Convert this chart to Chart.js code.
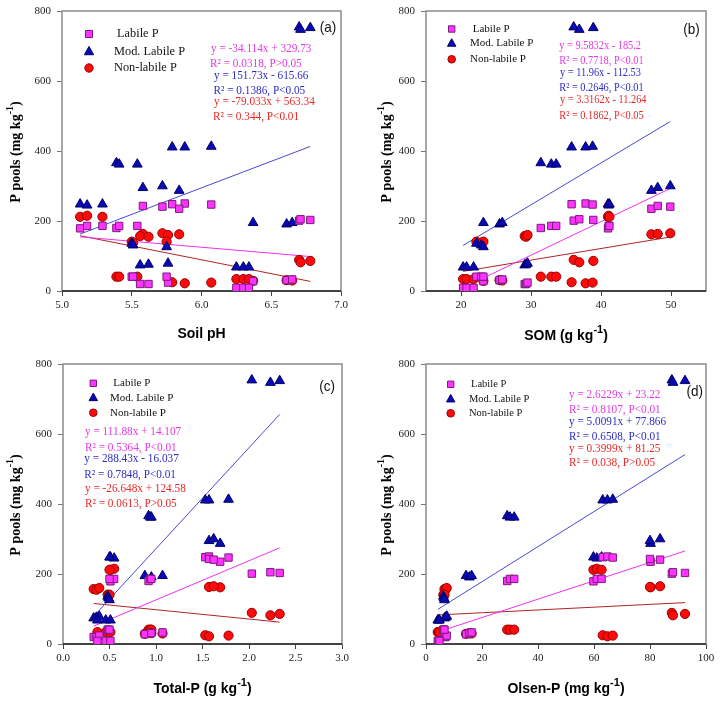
<!DOCTYPE html>
<html>
<head>
<meta charset="utf-8">
<script src="https://cdn.jsdelivr.net/npm/chart.js@4.4.1/dist/chart.umd.min.js"></script>
<style>
  body { margin: 0; background: #fff; }
  #wrap { position: relative; width: 720px; height: 706px; overflow: hidden; }
  canvas { position: absolute; }
</style>
</head>
<body>
<div id="wrap">
  <canvas id="pa" width="360" height="353" style="left:0;top:0"></canvas>
  <canvas id="pb" width="360" height="353" style="left:360px;top:0"></canvas>
  <canvas id="pc" width="360" height="353" style="left:0;top:353px"></canvas>
  <canvas id="pd" width="360" height="353" style="left:360px;top:353px"></canvas>
</div>
<script>
// one entry per soil sample (9 sites x 3)
var soilPH = [6.70, 6.71, 6.78, 5.79, 5.88, 6.07, 5.39, 5.41, 5.54, 5.84, 5.58, 5.72, 5.13, 5.18, 5.29,
              6.37, 6.61, 6.65, 5.56, 5.62, 5.76, 6.25, 6.30, 6.34, 5.50, 5.51, 5.75];
var som = [36.1, 36.9, 38.9, 35.8, 37.8, 38.8, 31.4, 32.9, 33.6, 47.2, 48.1, 49.9, 41.0, 41.1, 41.2,
           23.2, 25.5, 25.9, 29.1, 29.3, 29.5, 20.3, 20.8, 21.8, 22.2, 22.9, 23.2];
var totalP = [2.03, 2.23, 2.33, 1.53, 1.57, 1.78, 0.92, 0.94, 0.95, 1.69, 1.57, 1.62, 0.51, 0.55, 0.50,
              0.88, 0.95, 1.07, 0.33, 0.36, 0.39, 0.37, 0.46, 0.51, 0.48, 0.49, 0.50];
var olsenP = [87.8, 88.2, 92.5, 63.1, 64.8, 66.7, 29.0, 30.0, 31.5, 80.2, 80.0, 83.6, 59.8, 61.0, 62.7,
              14.3, 15.5, 16.3, 6.6, 7.0, 7.4, 4.2, 4.5, 4.8, 6.2, 6.4, 6.6];

var labileP = [201, 205, 203, 248, 250, 247, 180, 186, 186, 235, 243, 241, 179, 186, 186,
               28, 31, 33, 20, 20, 24, 9, 9, 9, 41, 41, 41];
var modLabileP = [754, 747, 752, 411, 411, 413, 366, 362, 362, 287, 295, 300, 248, 245, 248,
                  195, 191, 195, 74, 76, 79, 68, 68, 68, 136, 131, 126];
var nonLabileP = [89, 82, 86, 25, 22, 24, 41, 41, 41, 162, 163, 165, 212, 215, 212,
                  29, 31, 30, 157, 155, 160, 34, 34, 34, 141, 138, 141];

// regression lines: [labile, mod. labile, non-labile]
var slopesA = [-34.114, 151.73, -79.033], interceptsA = [329.73, -615.66, 563.34];
var slopesB = [9.5832, 11.96, 3.3162], interceptsB = [-185.2, -112.53, -11.264];
var slopesC = [111.88, 288.43, -26.648], interceptsC = [14.107, -16.037, 124.58];
var slopesD = [2.6229, 5.0091, 0.3999], interceptsD = [23.22, 77.866, 81.25];

var eqTextA = ['y = -34.114x + 329.73', 'R² = 0.0318, P>0.05', 'y = 151.73x - 615.66', 'R² = 0.1386, P<0.05', 'y = -79.033x + 563.34', 'R² = 0.344, P<0.01'];
var eqTextB = ['y = 9.5832x - 185.2', 'R² = 0.7718, P<0.01', 'y = 11.96x - 112.53', 'R² = 0.2646, P<0.01', 'y = 3.3162x - 11.264', 'R² = 0.1862, P<0.05'];
var eqTextC = ['y = 111.88x + 14.107', 'R² = 0.5364, P<0.01', 'y = 288.43x - 16.037', 'R² = 0.7848, P<0.01', 'y = -26.648x + 124.58', 'R² = 0.0613, P>0.05'];
var eqTextD = ['y = 2.6229x + 23.22', 'R² = 0.8107, P<0.01', 'y = 5.0091x + 77.866', 'R² = 0.6508, P<0.01', 'y = 0.3999x + 81.25', 'R² = 0.038, P>0.05'];

var seriesNames = ['Labile P', 'Mod. Labile P', 'Non-labile P'];
var yTicks = [0, 200, 400, 600, 800];
var phTicks = [5.0, 5.5, 6.0, 6.5, 7.0];
var somTicks = [20, 30, 40, 50];
var tpTicks = [0.0, 0.5, 1.0, 1.5, 2.0, 2.5, 3.0];
var opTicks = [0, 20, 40, 60, 80, 100];

var fillCol = ['#ff33ff', '#0a0ab4', '#ff0a0a'];
var edgeCol = ['#7a1a7a', '#00006a', '#9a0000'];
var lineCol = ['#f030f0', '#4848d8', '#b02424'];
var textCol = ['#e43ce4', '#2e2ec4', '#e82a2a'];

function txt(ctx, s, x, y, font, color, align, sx) {
  ctx.save();
  ctx.font = font;
  ctx.fillStyle = color;
  ctx.textBaseline = 'middle';
  ctx.textAlign = align || 'left';
  ctx.translate(x, y);
  ctx.scale(sx || 1, 1);
  ctx.fillText(s, 0, 0);
  ctx.restore();
}

// title with a superscript part, optionally rotated
function supTitle(ctx, parts, x, y, font, supFont, rot) {
  ctx.save();
  ctx.translate(x, y);
  if (rot) ctx.rotate(-Math.PI / 2);
  ctx.font = font;
  var w1 = ctx.measureText(parts[0]).width, w3 = ctx.measureText(parts[2]).width;
  ctx.font = supFont;
  var w2 = parts[1] ? ctx.measureText(parts[1]).width : 0;
  var x0 = -(w1 + w2 + w3) / 2;
  ctx.fillStyle = '#000';
  ctx.textBaseline = 'alphabetic';
  ctx.font = font;
  ctx.fillText(parts[0], x0, 5);
  if (parts[1]) {
    ctx.font = supFont;
    ctx.fillText(parts[1], x0 + w1, -2);
    ctx.font = font;
    ctx.fillText(parts[2], x0 + w1 + w2, 5);
  }
  ctx.restore();
}

function marker(ctx, k, x, y, s) {
  ctx.save();
  ctx.fillStyle = fillCol[k];
  ctx.strokeStyle = edgeCol[k];
  ctx.lineWidth = 1;
  ctx.beginPath();
  if (k === 0) ctx.rect(x - s, y - s, 2 * s, 2 * s);
  else if (k === 1) { ctx.moveTo(x, y - s * 1.1); ctx.lineTo(x + s, y + s * 0.7); ctx.lineTo(x - s, y + s * 0.7); ctx.closePath(); }
  else ctx.arc(x, y, s, 0, Math.PI * 2);
  ctx.fill();
  ctx.stroke();
  ctx.restore();
}

var panels = [
  { id: 'pa', xs: soilPH, min: 5, max: 7, ticks: phTicks, dec: 1, yw: 62, padR: 19,
    slopes: slopesA, inters: interceptsA, eq: eqTextA,
    eqX: [211, 210, 214, 213.5, 214, 213], eqY: [49, 63.3, 76, 90.7, 101.7, 116.7], eqFont: 12.5,
    legX: 89, legY: [34, 51.5, 68], legTX: [117, 114, 114], legFont: 13, legSx: 0.95, legS: 1.1,
    tag: '(a)', tagX: 328, tagY: 28,
    xTitle: ['Soil pH', '', ''], xTitleY: 333, yTitleX: 15 },
  { id: 'pb', xs: som, min: 15, max: 55, ticks: somTicks, dec: 0, yw: 66, padR: 14,
    slopes: slopesB, inters: interceptsB, eq: eqTextB,
    eqX: [199.3, 199.3, 200, 199.3, 200, 199.3], eqY: [46, 61, 73.3, 88.3, 100, 115.7], eqFont: 11.5,
    legX: 91.7, legY: [29, 43.3, 59.3], legTX: [112.7, 110, 110], legFont: 11, legSx: 1, legS: 1,
    tag: '(b)', tagX: 331.5, tagY: 30,
    xTitle: ['SOM (g kg', '-1', ')'], xTitleY: 335, yTitleX: 26 },
  { id: 'pc', xs: totalP, min: 0, max: 3, ticks: tpTicks, dec: 1, yw: 63, padR: 18,
    slopes: slopesC, inters: interceptsC, eq: eqTextC,
    eqX: [85, 85, 84.3, 84.3, 85, 85], eqY: [78.7, 94.3, 106, 121.3, 135.3, 150.3], eqFont: 12.5,
    legX: 93.3, legY: [30.3, 44.7, 59.7], legTX: [113.3, 110, 110], legFont: 11, legSx: 1, legS: 1,
    tag: '(c)', tagX: 327, tagY: 33.7,
    xTitle: ['Total-P (g kg', '-1', ')'], xTitleY: 335, yTitleX: 15 },
  { id: 'pd', xs: olsenP, min: 0, max: 100, ticks: opTicks, dec: 0, yw: 66, padR: 14,
    slopes: slopesD, inters: interceptsD, eq: eqTextD,
    eqX: [209, 209, 209, 209, 209, 209], eqY: [41.3, 56.3, 68.7, 83.7, 95.3, 109.7], eqFont: 12.5,
    legX: 90.7, legY: [31.3, 46, 60.3], legTX: [111, 109, 109], legFont: 10.5, legSx: 1, legS: 1,
    tag: '(d)', tagX: 334.7, tagY: 39.3,
    xTitle: ['Olsen-P (mg kg', '-1', ')'], xTitleY: 335, yTitleX: 26 }
];

function makeChart(p) {
  var ys = [labileP, modLabileP, nonLabileP];
  var styles = ['rect', 'triangle', 'circle'];
  var radii = [5.2, 5.6, 4.6];
  var lo = Math.min.apply(null, p.xs), hi = Math.max.apply(null, p.xs);
  var datasets = [];
  // points: labile on top, then mod. labile, then non-labile
  for (var k = 0; k < 3; k++) {
    datasets.push({
      label: seriesNames[k],
      data: p.xs.map(function (x, i) { return { x: x, y: ys[k][i] }; }),
      pointStyle: styles[k], pointRadius: radii[k], pointBackgroundColor: fillCol[k],
      pointBorderColor: edgeCol[k], pointBorderWidth: 1, showLine: false
    });
  }
  for (var k = 0; k < 3; k++) {
    datasets.push({
      label: seriesNames[k] + ' fit',
      data: [{ x: lo, y: p.slopes[k] * lo + p.inters[k] }, { x: hi, y: p.slopes[k] * hi + p.inters[k] }],
      showLine: true, pointRadius: 0, borderColor: lineCol[k], borderWidth: 1, fill: false
    });
  }

  var deco = {
    id: 'deco',
    beforeDatasetsDraw: function (chart) {
      var a = chart.chartArea, ctx = chart.ctx;
      ctx.save();
      ctx.strokeStyle = '#8a8a8a';
      ctx.lineWidth = 1.5;
      ctx.strokeRect(a.left, a.top, a.right - a.left, a.bottom - a.top);
      ctx.strokeStyle = '#222';
      ctx.beginPath();
      ctx.moveTo(a.left, a.bottom);
      ctx.lineTo(a.right, a.bottom);
      ctx.stroke();
      ctx.restore();
    },
    afterDraw: function (chart) {
      var a = chart.chartArea, ctx = chart.ctx;
      for (var i = 0; i < 6; i++) {
        txt(ctx, p.eq[i], p.eqX[i], p.eqY[i], p.eqFont + 'px "Liberation Serif"', textCol[Math.floor(i / 2)], 'left', 0.9);
      }
      for (var k = 0; k < 3; k++) {
        marker(ctx, k, p.legX, p.legY[k], [3.2, 4.2, 3.8][k] * p.legS);
        txt(ctx, seriesNames[k], p.legTX[k], p.legY[k], p.legFont + 'px "Liberation Serif"', '#111', 'left', p.legSx);
      }
      txt(ctx, p.tag, p.tagX, p.tagY, '15px "Liberation Sans"', '#111', 'center', 0.9);
      supTitle(ctx, p.xTitle, (a.left + a.right) / 2, p.xTitleY, 'bold 14px "Liberation Sans"', 'bold 11px "Liberation Sans"', false);
      supTitle(ctx, ['P pools (mg kg', '-1', ')'], p.yTitleX, (a.top + a.bottom) / 2 + 1, 'bold 14px "Liberation Serif"', 'bold 10px "Liberation Serif"', true);
    }
  };

  var tickFont = { family: 'Liberation Serif', size: 11 };
  return new Chart(document.getElementById(p.id), {
    type: 'scatter',
    data: { datasets: datasets },
    plugins: [deco],
    options: {
      responsive: false,
      animation: false,
      devicePixelRatio: 1,
      layout: { padding: { top: 11, right: p.padR, left: 0, bottom: 0 } },
      plugins: { legend: { display: false }, tooltip: { enabled: false } },
      scales: {
        x: {
          type: 'linear', min: p.min, max: p.max,
          afterBuildTicks: function (s) { s.ticks = p.ticks.map(function (v) { return { value: v }; }); },
          afterFit: function (s) { s.height = 62; s.paddingLeft = 0; s.paddingRight = 0; },
          ticks: { callback: function (v) { return Number(v).toFixed(p.dec); }, font: tickFont, color: '#222', padding: 3, maxRotation: 0, autoSkip: false },
          grid: { display: true, drawOnChartArea: false, tickLength: 5, color: '#444' },
          border: { display: false }
        },
        y: {
          type: 'linear', min: 0, max: 800,
          afterBuildTicks: function (s) { s.ticks = yTicks.map(function (v) { return { value: v }; }); },
          afterFit: function (s) { s.width = p.yw; s.paddingTop = 0; s.paddingBottom = 0; },
          ticks: { font: tickFont, color: '#222', padding: 6 },
          grid: { display: true, drawOnChartArea: false, tickLength: 5, color: '#777' },
          border: { display: false }
        }
      }
    }
  });
}

panels.forEach(makeChart);
</script>
</body>
</html>
